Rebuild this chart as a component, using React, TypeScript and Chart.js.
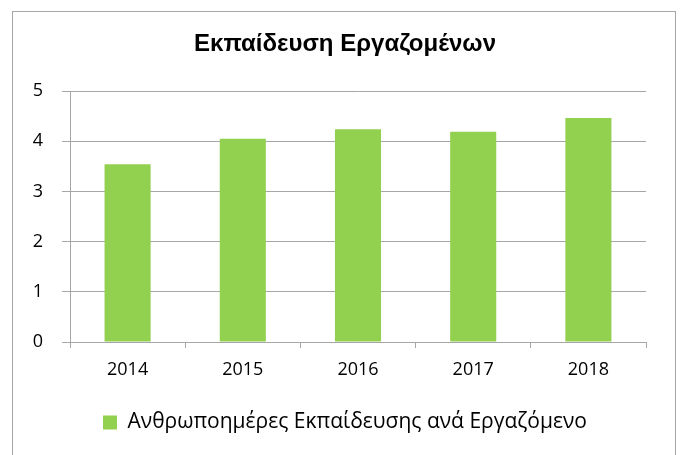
import React, { useEffect, useRef } from "react";
import { Chart, registerables } from "chart.js";

Chart.register(...registerables);

const chartTitle = "Εκπαίδευση Εργαζομένων";
const seriesLabel = "Ανθρωποημέρες Εκπαίδευσης ανά Εργαζόμενο";
const categories = ["2014", "2015", "2016", "2017", "2018"];
const trainingDays = [3.54, 4.05, 4.24, 4.19, 4.46];
const yMin = 0;
const yMax = 5;
const yStep = 1;

export default function App() {
  const ref = useRef<HTMLCanvasElement>(null);

  useEffect(() => {
    if (!ref.current) return;
    const chart = new Chart(ref.current, {
      type: "bar",
      data: {
        labels: categories,
        datasets: [
          {
            label: seriesLabel,
            data: trainingDays,
            backgroundColor: "#92D050",
            borderWidth: 0,
            barPercentage: 0.4,
            categoryPercentage: 1,
            yAxisID: "y",
          },
        ],
      },
      options: {
        animation: false,
        responsive: true,
        maintainAspectRatio: false,
        layout: { padding: { left: 9, right: 0, top: 0, bottom: 12 } },
        plugins: {
          title: {
            display: true,
            text: chartTitle,
            color: "#000000",
            font: { family: "Liberation Sans", size: 24, weight: "bold" },
            padding: { top: 30, bottom: 32.2 },
          },
          legend: {
            position: "bottom",
            labels: {
              boxWidth: 14,
              boxHeight: 14,
              color: "#000000",
              font: { family: "Open Sans", size: 21 },
            },
          },
          tooltip: { enabled: false },
        },
        scales: {
          x: {
            grid: {
              offset: true,
              drawOnChartArea: false,
              drawTicks: true,
              tickLength: 6,
              color: "#a6a6a6",
            },
            border: { color: "#a6a6a6" },
            ticks: {
              color: "#000000",
              font: { family: "Open Sans", size: 18 },
              padding: 11,
            },
            afterFit: (s: any) => {
              s.height = 60;
            },
          },
          y: {
            position: "left",
            min: yMin,
            max: yMax,
            grid: { color: "#a6a6a6", tickLength: 8 },
            border: { color: "#a6a6a6" },
            ticks: {
              stepSize: yStep,
              color: "#000000",
              font: { family: "Open Sans", size: 18 },
              padding: 19,
            },
            afterFit: (s: any) => {
              s.width = 61;
            },
          },
          yRight: {
            position: "right",
            display: true,
            min: yMin,
            max: yMax,
            grid: { display: false, drawTicks: false },
            border: { display: false },
            ticks: { display: false },
            afterFit: (s: any) => {
              s.width = 35;
            },
          },
        },
      },
    });
    return () => chart.destroy();
  }, []);

  return (
    <div
      style={{
        position: "fixed",
        left: 0,
        top: 0,
        width: 681,
        height: 455,
        background: "#ffffff",
        overflow: "hidden",
      }}
    >
      <div
        style={{
          position: "absolute",
          left: 12,
          top: 11,
          width: 664,
          height: 500,
          boxSizing: "border-box",
          border: "1px solid #a6a6a6",
        }}
      />
      <canvas
        ref={ref}
        style={{ position: "absolute", left: 0, top: 0, width: 681, height: 455 }}
      />
    </div>
  );
}
